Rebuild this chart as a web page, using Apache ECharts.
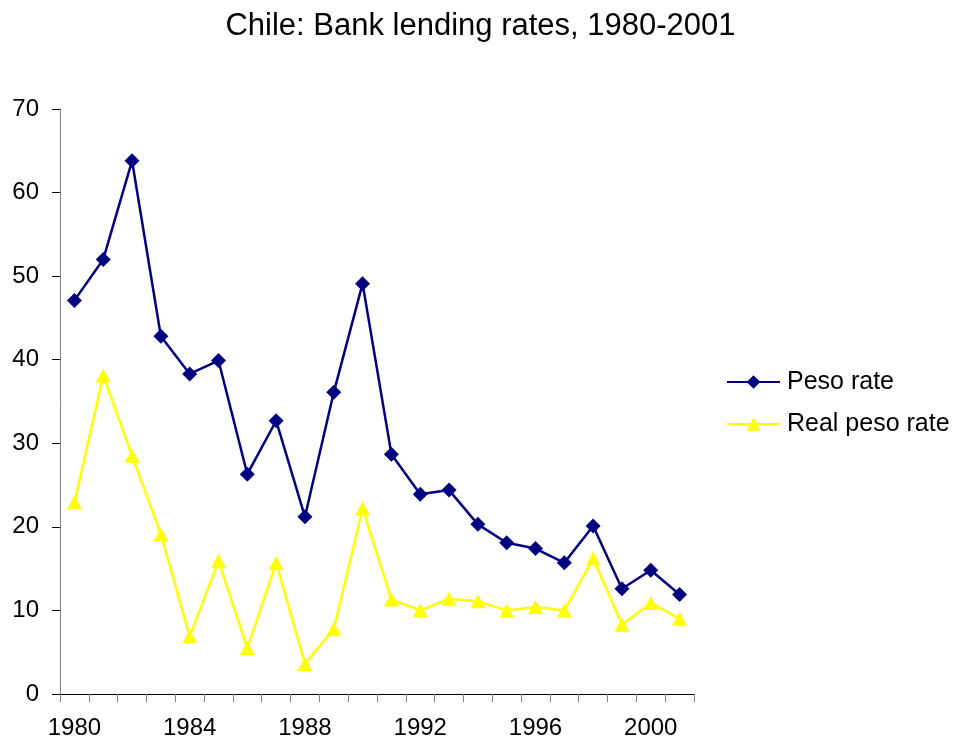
<!DOCTYPE html>
<html>
<head>
<meta charset="utf-8">
<script src="https://cdn.jsdelivr.net/npm/echarts@6/dist/echarts.min.js"></script>
<style>
html,body{margin:0;padding:0;background:#fff;}
#chart{width:961px;height:748px;}
</style>
</head>
<body>
<div id="chart"></div>
<script>
var years = ['1980','1981','1982','1983','1984','1985','1986','1987','1988','1989','1990','1991','1992','1993','1994','1995','1996','1997','1998','1999','2000','2001'];
var pesoRate = [47.1, 52.0, 63.8, 42.8, 38.3, 39.9, 26.3, 32.7, 21.2, 36.1, 49.1, 28.7, 23.9, 24.4, 20.3, 18.1, 17.4, 15.7, 20.1, 12.6, 14.8, 11.9];
var realPesoRate = [22.9, 38.1, 28.5, 19.1, 6.9, 15.9, 5.5, 15.7, 3.6, 7.8, 22.2, 11.3, 10.0, 11.4, 11.1, 10.0, 10.4, 10.0, 16.2, 8.3, 10.9, 9.0];
var seriesNames = ['Peso rate', 'Real peso rate'];
var titleText = 'Chile: Bank lending rates, 1980-2001';

var font = 'Liberation Sans, Arial, sans-serif';
var chart = echarts.init(document.getElementById('chart'), null, {renderer: 'canvas'});
chart.setOption({
  backgroundColor: '#ffffff',
  animation: false,
  title: {
    text: titleText,
    left: 'center',
    top: 6,
    textStyle: {fontFamily: font, fontSize: 31, fontWeight: 'normal', color: '#000'}
  },
  legend: {
    orient: 'vertical',
    left: 721,
    top: 362,
    itemWidth: 53,
    itemHeight: 17,
    itemGap: 12,
    textStyle: {fontFamily: font, fontSize: 25, color: '#000', lineHeight: 30, padding: [0,0,0,2]},
    data: seriesNames
  },
  grid: {left: 60, right: 267, top: 109, bottom: 54, containLabel: false},
  xAxis: {
    type: 'category',
    data: years,
    boundaryGap: true,
    axisLine: {lineStyle: {color: '#000', width: 1}},
    axisTick: {show: true, interval: 0, length: 8, lineStyle: {color: '#808080'}},
    axisLabel: {interval: 3, margin: 22, fontFamily: font, fontSize: 24, color: '#000'},
    splitLine: {show: false}
  },
  yAxis: {
    type: 'value',
    min: 0,
    max: 70,
    interval: 10,
    axisLine: {show: true, lineStyle: {color: '#808080', width: 1}},
    axisTick: {show: true, length: 8, lineStyle: {color: '#000'}},
    axisLabel: {margin: 21, fontFamily: font, fontSize: 24, color: '#000'},
    splitLine: {show: false}
  },
  series: [
    {
      name: seriesNames[0],
      type: 'line',
      data: pesoRate,
      symbol: 'diamond',
      symbolSize: 15,
      lineStyle: {color: '#000080', width: 2.5},
      itemStyle: {color: '#000080'}
    },
    {
      name: seriesNames[1],
      type: 'line',
      data: realPesoRate,
      symbol: 'triangle',
      symbolSize: [15, 14],
      lineStyle: {color: '#FFFF00', width: 2.5},
      itemStyle: {color: '#FFFF00'}
    }
  ]
});
</script>
</body>
</html>
